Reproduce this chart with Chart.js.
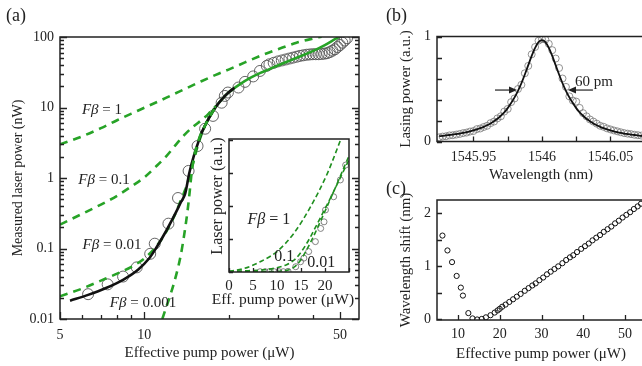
<!DOCTYPE html>
<html>
<head>
<meta charset="utf-8">
<script src="https://cdn.jsdelivr.net/npm/chart.js@4.4.1/dist/chart.umd.min.js"></script>
<style>
  html, body { margin: 0; padding: 0; background: #fff; }
  body { width: 642px; height: 366px; position: relative; overflow: hidden; }
  canvas { position: absolute; }
  .tag { position: absolute; font: 18px 'Liberation Serif', serif; color: #222; }
  .inx { position: absolute; left: 183px; top: 290px; width: 200px; text-align: center;
         font: 15.5px 'Liberation Serif', serif; color: #222; white-space: nowrap; }
  .iny { position: absolute; left: 117px; top: 187px; width: 200px; text-align: center;
         font: 16px 'Liberation Serif', serif; color: #222; white-space: nowrap; transform: rotate(-90deg); }
</style>
</head>
<body>
<canvas id="mainChart" width="370" height="366" style="left:0;top:0"></canvas>
<canvas id="insetChart" width="160" height="180" style="left:195px;top:128px"></canvas>
<canvas id="specChart" width="265" height="185" style="left:385px;top:0"></canvas>
<canvas id="shiftChart" width="265" height="181" style="left:385px;top:185px"></canvas>
<div class="tag" style="left:6px;top:5px">(a)</div>
<div class="tag" style="left:386px;top:5px">(b)</div>
<div class="tag" style="left:386px;top:178px">(c)</div>
<div class="inx">Eff. pump power (μW)</div>
<div class="iny">Laser power (a.u.)</div>
<script>
// ---- (a) measured laser power vs effective pump power (log-log) ----
const aPump = [6.3, 7.4, 8.4, 9.4, 10.5, 10.9, 12.2, 13.2, 14.4, 15.5, 16.5, 17.6, 18.9, 19.4, 19.9, 21.7, 22.9, 24.5, 25.9, 27.4,
  28, 29, 30, 31, 32, 33, 34, 35, 36, 37, 38, 39, 40, 41, 42, 43, 44, 45, 46, 47, 48, 49, 50, 51, 52, 53];
const aPower = [0.0225, 0.031, 0.040, 0.054, 0.084, 0.117, 0.225, 0.52, 1.26, 2.84, 5.0, 7.6, 11.7, 14.6, 16.3, 19.2, 23.1, 27.6, 33, 39,
  41, 43, 45, 46.5, 48, 49.5, 51, 52.5, 54, 55, 56, 56.5, 57, 57, 57, 57.5, 58, 59, 61, 64, 67, 72, 77, 83, 89, 96];

const fitPump = [5.43, 6.3, 7.3, 8.4, 9.5, 10.4, 11.0, 12.0, 13.0, 13.5, 14.0, 14.5, 15.0, 15.5, 16.0, 16.5, 17.0, 18.0, 19.0, 20.0, 21.0];
const fitPower = [0.0182, 0.022, 0.0275, 0.036, 0.05, 0.072, 0.1, 0.18, 0.33, 0.45, 0.6, 1.2, 2.0, 3.0, 4.3, 5.6, 7.0, 10.2, 13.3, 16.3, 19];

const highPump = [16, 17, 18, 19, 20, 22, 24, 26, 28, 30, 33, 36, 40, 44, 48, 50];
const highPower = [4.3, 7.0, 10.2, 13.3, 16.3, 21.5, 26.5, 31, 35, 39.5, 46, 53, 63, 76, 93, 102];

const fb1Pump = [5, 6, 7, 8, 9, 10, 12, 14, 16, 18, 20, 23, 26.6, 30, 35, 40, 43];
const fb1Power = [3.0, 3.9, 5.1, 6.6, 8.2, 9.9, 13.8, 18.4, 23.6, 29, 34.5, 44, 56, 67, 83, 95, 101];
const fb01Pump = [5, 6, 7, 8, 9, 10, 11, 12, 13, 14, 15, 16, 17, 18];
const fb01Power = [0.218, 0.31, 0.42, 0.56, 0.76, 1.02, 1.45, 2.05, 3.0, 4.2, 5.4, 6.6, 8.2, 10.5];
const fb001Pump = [5, 6, 7, 8, 9, 10, 11, 12, 13, 13.5, 14, 14.5, 15, 15.5, 16, 17, 18];
const fb001Power = [0.021, 0.027, 0.035, 0.044, 0.055, 0.072, 0.105, 0.175, 0.33, 0.48, 0.68, 1.05, 1.7, 2.8, 4.1, 7.2, 10.5];
const fb0001Pump = [11.6, 12.0, 12.4, 13.0, 13.5, 13.9, 14.3, 14.56, 14.8, 15.1, 15.5, 16.0, 16.5, 17, 18];
const fb0001Power = [0.01, 0.015, 0.022, 0.042, 0.08, 0.16, 0.36, 0.69, 1.3, 2.1, 3.1, 4.4, 5.6, 7.0, 10.2];

const aXTicks = [5, 6, 7, 8, 9, 10, 20, 30, 40, 50];
const aXLabels = [5, 10, 50];
const aYDecades = [0.01, 0.1, 1, 10, 100];

// ---- inset: linear scale ----
const inPump = [6.5, 7.5, 8.4, 9.4, 10.4, 11.3, 12.3, 13.9, 14.9, 15.6, 16.6, 18.0, 19.1, 19.8, 20.1, 21.8, 23.2, 24.3];
const inPower = [0.01, 0.01, 0.01, 0.01, 0.01, 0.01, 0.02, 0.16, 0.31, 0.42, 0.62, 0.92, 1.32, 1.52, 1.88, 2.28, 2.79, 3.24];
const in1Pump = [0, 3, 6.5, 10, 13.5, 17, 20.5, 23.5];
const in1Power = [0.02, 0.1, 0.31, 0.62, 1.17, 1.98, 2.99, 4.1];
const in01Pump = [0, 4, 8, 10, 12, 13, 14, 15, 16, 17, 18, 19, 20, 21, 22, 23, 24, 25];
const in01Power = [0.02, 0.04, 0.08, 0.13, 0.22, 0.3, 0.42, 0.6, 0.82, 1.07, 1.35, 1.63, 1.92, 2.2, 2.5, 2.8, 3.1, 3.4];
const in001Pump = [0, 10, 12, 13, 14, 15, 16, 17, 18, 19, 20, 21, 22, 23, 24, 25];
const in001Power = [0.0, 0.02, 0.05, 0.1, 0.2, 0.38, 0.62, 0.9, 1.2, 1.52, 1.84, 2.17, 2.5, 2.84, 3.18, 3.52];
const inXTicks = [0, 5, 10, 15, 20, 25];
const inXLabels = [0, 5, 10, 15, 20];
const inYTicks = [0, 1, 2, 3, 4];

// ---- (b) lasing spectrum ----
const bWave = [1545.9250, 1545.9275, 1545.9300, 1545.9325, 1545.9350, 1545.9375, 1545.9400, 1545.9425, 1545.9450, 1545.9475,
  1545.9500, 1545.9525, 1545.9550, 1545.9575, 1545.9600, 1545.9625, 1545.9650, 1545.9675, 1545.9700, 1545.9725,
  1545.9750, 1545.9775, 1545.9800, 1545.9825, 1545.9850, 1545.9875, 1545.9900, 1545.9925, 1545.9950, 1545.9975,
  1546.0000, 1546.0025, 1546.0050, 1546.0075, 1546.0100, 1546.0125, 1546.0150, 1546.0175, 1546.0200, 1546.0225,
  1546.0250, 1546.0275, 1546.0300, 1546.0325, 1546.0350, 1546.0375, 1546.0400, 1546.0425, 1546.0450, 1546.0475,
  1546.0500, 1546.0525, 1546.0550, 1546.0575, 1546.0600, 1546.0625, 1546.0650, 1546.0675, 1546.0700, 1546.0725, 1546.0750];
const bFit = [0.051, 0.054, 0.058, 0.062, 0.066, 0.071, 0.076, 0.082, 0.089, 0.097,
  0.106, 0.116, 0.127, 0.140, 0.155, 0.172, 0.193, 0.216, 0.245, 0.278,
  0.318, 0.366, 0.420, 0.483, 0.555, 0.638, 0.727, 0.815, 0.892, 0.946,
  0.965, 0.946, 0.892, 0.815, 0.727, 0.638, 0.555, 0.483, 0.420, 0.366,
  0.318, 0.278, 0.245, 0.216, 0.193, 0.172, 0.155, 0.140, 0.127, 0.116,
  0.106, 0.097, 0.089, 0.082, 0.076, 0.071, 0.066, 0.062, 0.058, 0.054, 0.051];
const bMeas = [0.040, 0.047, 0.050, 0.058, 0.060, 0.066, 0.072, 0.080, 0.085, 0.095,
  0.100, 0.118, 0.124, 0.138, 0.150, 0.175, 0.190, 0.220, 0.240, 0.285,
  0.310, 0.375, 0.410, 0.500, 0.540, 0.650, 0.720, 0.830, 0.900, 0.960,
  0.975, 0.970, 0.930, 0.870, 0.790, 0.700, 0.600, 0.520, 0.430, 0.390,
  0.380, 0.320, 0.270, 0.240, 0.210, 0.190, 0.170, 0.150, 0.140, 0.125,
  0.115, 0.105, 0.097, 0.088, 0.080, 0.075, 0.070, 0.064, 0.060, 0.056, 0.052];
const bXTicks = [1545.95, 1545.975, 1546, 1546.025, 1546.05];
const bXLabels = [1545.95, 1546, 1546.05];
const bYTicks = [0, 0.2, 0.4, 0.6, 0.8, 1];
const bYLabels = [0, 1];

// ---- (c) wavelength shift ----
const cPump = [6.3, 7.5, 8.6, 9.7, 10.7, 11.2, 12.5, 13.5, 14.6, 15.7, 16.7, 17.8, 18.8, 19.5,
  20.0, 20.6, 21.4, 22.3, 23.2, 24.1, 25.0, 26.0, 26.9, 27.8, 28.6, 29.5, 30.4, 31.3, 32.2, 33.1, 34.0,
  35.0, 35.9, 36.8, 37.6, 38.5, 39.5, 40.4, 41.3, 42.2, 43.1, 44.0, 44.9, 45.8, 46.7, 47.6, 48.5, 49.4,
  50.3, 51.2, 52.1, 53.0, 53.8];
const cShift = [1.58, 1.30, 1.08, 0.82, 0.60, 0.45, 0.12, 0.02, 0.00, 0.01, 0.04, 0.08, 0.13, 0.17,
  0.20, 0.24, 0.28, 0.33, 0.38, 0.43, 0.48, 0.54, 0.59, 0.64, 0.68, 0.74, 0.79, 0.85, 0.90, 0.95, 1.00,
  1.06, 1.12, 1.17, 1.21, 1.27, 1.33, 1.38, 1.43, 1.49, 1.54, 1.59, 1.65, 1.70, 1.75, 1.81, 1.86, 1.92,
  1.97, 2.02, 2.08, 2.13, 2.18];
const cXTicks = [10, 20, 30, 40, 50];
const cYTicks = [0, 0.5, 1, 1.5, 2];
const cYLabels = [0, 1, 2];

const FONT = "'Liberation Serif', serif";
const INK = '#222';
const GREEN = '#27a327';
Chart.defaults.font.family = FONT;
Chart.defaults.color = INK;

const pts = (xs, ys) => xs.map((x, i) => ({ x: x, y: ys[i] }));

function line(xs, ys, color, width, dash) {
  return {
    data: pts(xs, ys), showLine: true, borderColor: color, borderWidth: width,
    borderDash: dash || [], pointRadius: 0, fill: false, cubicInterpolationMode: 'monotone'
  };
}
function marks(xs, ys, r, color, w) {
  return {
    data: pts(xs, ys), showLine: false, pointRadius: r, pointStyle: 'circle',
    pointBorderColor: color, pointBackgroundColor: 'rgba(0,0,0,0)', pointBorderWidth: w
  };
}

function axis(o) {
  return {
    type: o.type || 'linear', min: o.min, max: o.max,
    grid: { display: false, drawTicks: false },
    border: { display: false },
    afterBuildTicks: s => { s.ticks = o.ticks.map(v => ({ value: v, major: o.labels.includes(v) })); },
    afterFit: s => { if (s.isHorizontal()) s.height = o.size; else s.width = o.size; },
    ticks: {
      padding: o.pad, autoSkip: false, maxRotation: 0, color: INK, font: { size: o.fontSize || 14 },
      callback: (v, i, t) => o.labels.includes(t[i].value) ? String(t[i].value) : ''
    },
    title: {
      display: !!o.title, text: o.title, color: INK, font: { size: o.titleSize || 15 },
      padding: o.titlePad || 0
    }
  };
}

// frame, inward tick marks, text notes and arrows
const decor = {
  id: 'decor',
  beforeDatasetsDraw(chart, args, o) {
    if (!o.fill) return;
    const a = chart.chartArea, ctx = chart.ctx;
    ctx.save(); ctx.fillStyle = '#fff';
    ctx.fillRect(a.left, a.top, a.right - a.left, a.bottom - a.top);
    ctx.restore();
  },
  afterDatasetsDraw(chart, args, o) {
    const a = chart.chartArea, ctx = chart.ctx, xs = chart.scales.x, ys = chart.scales.y;
    ctx.save();
    ctx.strokeStyle = INK; ctx.lineWidth = 1.3;
    const big = o.major || 7, small = o.minor || 4;
    ctx.beginPath();
    xs.ticks.forEach(t => {
      const p = Math.round(xs.getPixelForValue(t.value)) + 0.5;
      const L = t.major ? big : small;
      ctx.moveTo(p, a.bottom); ctx.lineTo(p, a.bottom - L);
    });
    ys.ticks.forEach(t => {
      const p = Math.round(ys.getPixelForValue(t.value)) + 0.5;
      const L = t.major ? big : small;
      ctx.moveTo(a.left, p); ctx.lineTo(a.left + L, p);
      if (o.mirrorY) { ctx.moveTo(a.right, p); ctx.lineTo(a.right - L, p); }
    });
    ctx.stroke();
    ctx.lineWidth = 1.5;
    ctx.strokeRect(a.left, a.top, a.right - a.left, a.bottom - a.top);

    ctx.fillStyle = INK; ctx.textBaseline = 'middle'; ctx.textAlign = 'left';
    (o.notes || []).forEach(n => {
      const size = n.size || 14;
      const fonts = n.parts.map(p => (p[1] ? 'italic ' : '') + size + 'px ' + FONT);
      let w = 0;
      const widths = n.parts.map((p, i) => { ctx.font = fonts[i]; const m = ctx.measureText(p[0]).width; w += m; return m; });
      let cx = xs.getPixelForValue(n.x) - w / 2;
      const cy = ys.getPixelForValue(n.y);
      n.parts.forEach((p, i) => { ctx.font = fonts[i]; ctx.fillText(p[0], cx, cy); cx += widths[i]; });
    });
    (o.arrows || []).forEach(r => {
      const x0 = xs.getPixelForValue(r.from), x1 = xs.getPixelForValue(r.to), y = ys.getPixelForValue(r.y);
      const d = Math.sign(x1 - x0);
      ctx.lineWidth = 1.2;
      ctx.beginPath(); ctx.moveTo(x0, y); ctx.lineTo(x1 - d * 6, y); ctx.stroke();
      ctx.beginPath(); ctx.moveTo(x1, y); ctx.lineTo(x1 - d * 8, y - 3.5); ctx.lineTo(x1 - d * 8, y + 3.5); ctx.closePath(); ctx.fill();
    });
    ctx.restore();
  }
};

function base(padding, decorOpts) {
  return {
    responsive: false, animation: false, events: [],
    layout: { padding: padding },
    plugins: { legend: { display: false }, tooltip: { enabled: false }, decor: decorOpts }
  };
}

const aYTicks = [];
aYDecades.forEach(d => { for (let k = 1; k < 10; k++) { if (d * k <= 100) aYTicks.push(+(d * k).toPrecision(3)); } });

const fb = (v) => [['Fβ', true], [' = ' + v, false]];

// (a) main log-log chart
const mainOpts = base({ top: 37, right: 11, left: 0, bottom: 0 }, {
  mirrorY: true, major: 7, minor: 4,
  notes: [
    { x: 7.06, y: 9.3, parts: fb('1'), size: 15 },
    { x: 7.18, y: 0.95, parts: fb('0.1'), size: 15 },
    { x: 7.67, y: 0.113, parts: fb('0.01'), size: 15 },
    { x: 9.9, y: 0.017, parts: fb('0.001'), size: 15 }
  ]
});
mainOpts.scales = {
  x: axis({ type: 'logarithmic', min: 5, max: 58.5, ticks: aXTicks, labels: aXLabels, size: 47, pad: 8,
    title: 'Effective pump power (μW)', titlePad: { top: 0, bottom: 4 } }),
  y: axis({ type: 'logarithmic', min: 0.01, max: 100, ticks: aYTicks, labels: aYDecades, size: 60, pad: 6,
    title: 'Measured laser power (nW)', titleSize: 14, titlePad: { top: 10, bottom: 0 } })
};
new Chart(document.getElementById('mainChart'), {
  type: 'scatter',
  data: {
    datasets: [
      line(fb1Pump, fb1Power, GREEN, 2.6, [8, 6]),
      line(fb01Pump, fb01Power, GREEN, 2.6, [8, 6]),
      line(fb0001Pump, fb0001Power, GREEN, 2.6, [8, 6]),
      line(fitPump, fitPower, '#111', 2.6),
      line(highPump, highPower, GREEN, 2.6),
      line(fb001Pump, fb001Power, GREEN, 2.6, [8, 6]),
      marks(aPump, aPower, 5.5, '#555', 0.9)
    ]
  },
  options: mainOpts,
  plugins: [decor]
});

// inset (axis titles are the HTML .inx/.iny labels)
const insetOpts = base({ top: 11, right: 6, left: 0, bottom: 0 }, {
  fill: true, major: 4, minor: 4,
  notes: [
    { x: 8.3, y: 1.58, parts: fb('1'), size: 16 },
    { x: 11.5, y: 0.45, parts: [['0.1', false]], size: 16 },
    { x: 19.2, y: 0.27, parts: [['0.01', false]], size: 16 }
  ]
});
insetOpts.scales = {
  x: axis({ min: 0, max: 25, ticks: inXTicks, labels: inXLabels, size: 36, pad: 5, fontSize: 15 }),
  y: axis({ min: 0, max: 4.03, ticks: inYTicks, labels: [], size: 34, pad: 2 })
};
new Chart(document.getElementById('insetChart'), {
  type: 'scatter',
  data: {
    datasets: [
      line(in1Pump, in1Power, '#1f8f1f', 1.6, [5, 3]),
      line(in01Pump, in01Power, '#1f8f1f', 1.6, [5, 3]),
      line(in001Pump, in001Power, '#1f8f1f', 1.6, [5, 3]),
      marks(inPump, inPower, 3, '#666', 0.8)
    ]
  },
  options: insetOpts,
  plugins: [decor]
});

// (b) spectrum
const specOpts = base({ top: 36.5, right: 5, left: 0, bottom: 0 }, {
  major: 5, minor: 5,
  notes: [{ x: 1546.038, y: 0.57, parts: [['60 pm', false]], size: 15 }],
  arrows: [
    { from: 1545.9657, to: 1545.9818, y: 0.49 },
    { from: 1546.0372, to: 1546.019, y: 0.49 }
  ]
});
specOpts.scales = {
  x: axis({ min: 1545.9234, max: 1546.0752, ticks: bXTicks, labels: bXLabels, size: 43.5, pad: 7,
    title: 'Wavelength (nm)', titlePad: { top: 0, bottom: 1 } }),
  y: axis({ min: 0, max: 1, ticks: bYTicks, labels: bYLabels, size: 52, pad: 6,
    title: 'Lasing power (a.u.)', titlePad: { top: 12, bottom: 0 } })
};
new Chart(document.getElementById('specChart'), {
  type: 'scatter',
  data: {
    datasets: [
      line(bWave, bFit, '#111', 1.8),
      marks(bWave, bMeas, 3.5, '#777', 0.8)
    ]
  },
  options: specOpts,
  plugins: [decor]
});

// (c) wavelength shift
const shiftOpts = base({ top: 15, right: 5, left: 0, bottom: 0 }, { major: 5, minor: 5 });
shiftOpts.scales = {
  x: axis({ min: 5, max: 54.76, ticks: cXTicks, labels: cXTicks, size: 46, pad: 6,
    title: 'Effective pump power (μW)', titlePad: { top: 0, bottom: 3 } }),
  y: axis({ min: -0.01, max: 2.25, ticks: cYTicks, labels: cYLabels, size: 52, pad: 6,
    title: 'Wavelength shift (nm)', titlePad: { top: 12, bottom: 0 } })
};
new Chart(document.getElementById('shiftChart'), {
  type: 'scatter',
  data: { datasets: [marks(cPump, cShift, 2.6, '#111', 1)] },
  options: shiftOpts,
  plugins: [decor]
});
</script>
</body>
</html>
